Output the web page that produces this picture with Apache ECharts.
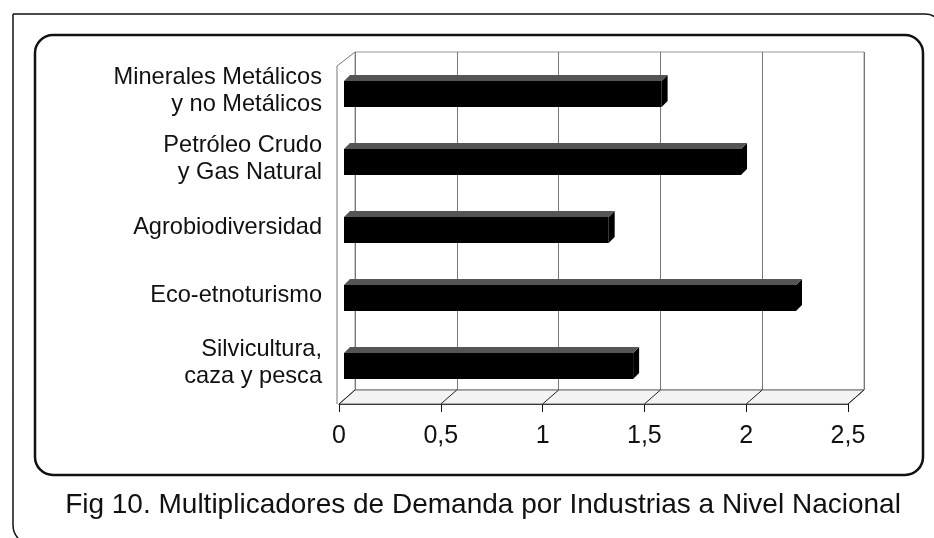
<!DOCTYPE html>
<html>
<head>
<meta charset="utf-8">
<script src="https://cdn.jsdelivr.net/npm/echarts@6/dist/echarts.min.js"></script>
<style>
  html, body { margin: 0; padding: 0; background: #fff; }
  #chart { width: 934px; height: 538px; }
</style>
</head>
<body>
<div id="chart"></div>
<script>
// datos
const industrias = [
  'Minerales Metálicos\ny no Metálicos',
  'Petróleo Crudo\ny Gas Natural',
  'Agrobiodiversidad',
  'Eco-etnoturismo',
  'Silvicultura,\ncaza y pesca'
];
const multiplicadores = [1.56, 1.95, 1.30, 2.22, 1.42];
const ticksX = [0, 0.5, 1, 1.5, 2, 2.5];
const caption = 'Fig 10. Multiplicadores de Demanda por Industrias a Nivel Nacional';

const FONT = '"Liberation Sans", Arial, sans-serif';
const chart = echarts.init(document.getElementById('chart'), null, { renderer: 'canvas' });

// profundidad del "3D" (desplazamiento de la pared del fondo)
const DX = 16, DY = 14, FLOOR_OFF = 7;

const fmt = v => String(v).replace('.', ',');

const option = {
  animation: false,
  backgroundColor: '#fff',
  textStyle: { fontFamily: FONT },
  grid: [
    { left: 339, right: 86, top: 57, bottom: 141 },
    { left: 355, right: 70, top: 52, bottom: 148, show: true, borderColor: '#999', borderWidth: 1, backgroundColor: 'transparent' }
  ],
  xAxis: [
    {
      gridIndex: 0, type: 'value', min: 0, max: 2.5, interval: 0.5, offset: FLOOR_OFF,
      axisLine: { show: true, lineStyle: { color: '#111', width: 1 } },
      axisTick: { show: true, length: 8, lineStyle: { color: '#111' } },
      axisLabel: { fontSize: 25, color: '#111', margin: 20, fontFamily: FONT, formatter: fmt },
      splitLine: { show: false }
    },
    {
      gridIndex: 1, type: 'value', min: 0, max: 2.5, interval: 0.5,
      axisLine: { show: false }, axisTick: { show: false }, axisLabel: { show: false },
      splitLine: { show: true, lineStyle: { color: '#777', width: 1 } }
    }
  ],
  yAxis: [
    {
      gridIndex: 0, type: 'category', data: industrias, inverse: true,
      axisLine: { show: false }, axisTick: { show: false },
      axisLabel: { fontSize: 23.6, lineHeight: 27, color: '#111', margin: 17, align: 'right', fontFamily: FONT }
    },
    { gridIndex: 1, type: 'category', data: industrias, show: false }
  ],
  series: [
    {
      // piso y pared izquierda
      type: 'custom', xAxisIndex: 0, yAxisIndex: 0, z: 1,
      data: ticksX.map(v => [v, 0]),
      encode: { x: 0, y: 1 },
      renderItem: (params, api) => {
        const x = api.coord([api.value(0), 0])[0];
        const yF = params.coordSys.y + params.coordSys.height + FLOOR_OFF;
        const children = [];
        if (params.dataIndex === 0) {
          const xE = api.coord([ticksX[ticksX.length - 1], 0])[0];
          children.push({
            type: 'polygon',
            shape: { points: [[x, yF], [xE, yF], [xE + DX, yF - DY], [x + DX, yF - DY]] },
            style: { fill: '#f3f3f3', stroke: '#666', lineWidth: 1 }
          });
          children.push({
            type: 'polyline',
            shape: { points: [[x - 2, yF], [x - 2, yF - 338], [x + DX, yF - 352]] },
            style: { stroke: '#777', lineWidth: 1, fill: null }
          });
        }
        children.push({
          type: 'line',
          shape: { x1: x, y1: yF, x2: x + DX, y2: yF - DY },
          style: { stroke: '#222', lineWidth: 1 }
        });
        return { type: 'group', children };
      }
    },
    {
      // barras con efecto 3D
      type: 'custom', xAxisIndex: 0, yAxisIndex: 0, z: 3,
      data: multiplicadores.map((v, i) => [v, i]),
      encode: { x: 0, y: 1 },
      renderItem: (params, api) => {
        const v = api.value(0), i = api.value(1);
        const s = api.coord([0, i]);
        const e = api.coord([v, i]);
        const cy = s[1];
        const x0 = s[0] + 5, x1 = e[0] + 5, d = 6;
        return {
          type: 'group',
          children: [
            { type: 'rect', shape: { x: x0, y: cy - 10, width: x1 - x0, height: 26 }, style: { fill: '#000' } },
            { type: 'polygon', shape: { points: [[x1, cy - 10], [x1 + d, cy - 16], [x1 + d, cy + 10], [x1, cy + 16]] }, style: { fill: '#000' } },
            { type: 'polygon', shape: { points: [[x0, cy - 10], [x0 + d, cy - 16], [x1 + d, cy - 16], [x1, cy - 10]] }, style: { fill: '#555' } }
          ]
        };
      }
    }
  ],
  graphic: [
    {
      type: 'rect', z: 0, silent: true,
      shape: { x: 13, y: 14, width: 930, height: 531, r: [0, 18, 0, 20] },
      style: { fill: null, stroke: '#111', lineWidth: 1.5 }
    },
    {
      type: 'rect', z: 0, silent: true,
      shape: { x: 35, y: 35, width: 888, height: 440, r: 18 },
      style: { fill: null, stroke: '#111', lineWidth: 2.5 }
    },
    {
      type: 'text', z: 5, silent: true, x: 483, y: 505,
      style: { text: caption, font: '28px ' + FONT, fill: '#111', textAlign: 'center', textVerticalAlign: 'middle' }
    }
  ]
};

chart.setOption(option);
window.addEventListener('resize', () => chart.resize());
</script>
</body>
</html>
